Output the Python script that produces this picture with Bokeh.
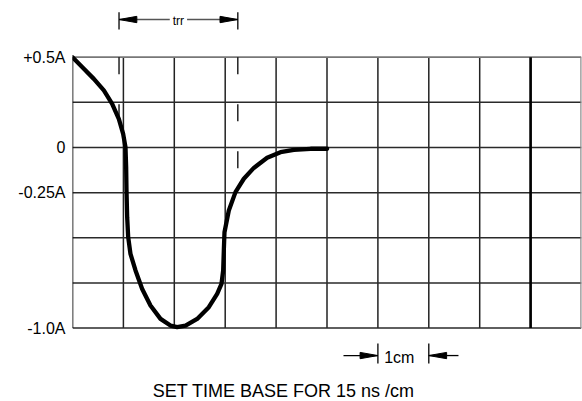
from bokeh.plotting import figure
from bokeh.models import Range1d, FixedTicker
from bokeh.core.properties import value
from bokeh.embed import file_html
from bokeh.resources import INLINE

# ---- data (x in cm divisions of the scope screen, y in amperes) ----
time_div = [0.0, 0.223, 0.419, 0.616, 0.779, 0.910, 0.995, 1.041, 1.054, 1.061,
            1.074, 1.094, 1.139, 1.238, 1.369, 1.532, 1.729, 1.925, 2.056, 2.220,
            2.449, 2.678, 2.842, 2.927, 2.960, 2.973, 2.986, 3.071, 3.202, 3.366,
            3.562, 3.824, 4.086, 4.348, 4.676, 5.003]
current_a = [0.5, 0.436, 0.380, 0.316, 0.242, 0.159, 0.076, 0.002, -0.109, -0.238,
             -0.386, -0.496, -0.589, -0.681, -0.783, -0.875, -0.949, -0.986, -0.995, -0.986,
             -0.949, -0.884, -0.810, -0.755, -0.681, -0.570, -0.469, -0.349, -0.247, -0.173,
             -0.113, -0.057, -0.026, -0.013, -0.007, -0.007]
y_ticks = [0.5, 0.0, -0.25, -1.0]
y_tick_labels = ["+0.5A", "0", "-0.25A", "-1.0A"]
grid_x = [0, 1, 2, 3, 4, 5, 6, 7, 8, 9, 10]
grid_y = [0.5, 0.25, 0.0, -0.25, -0.5, -0.75, -1.0]
trr_x = [0.914, 3.248]          # start / end of reverse recovery time
trr_marker_end = [0.05, -0.2]   # how far the dashed markers reach down
cal_x = [6, 7]                  # 1 cm calibration
trr_text = "trr"
cal_text = "1cm"
title_text = "SET TIME BASE FOR 15 ns /cm"

FONT = "Liberation Sans"
X0, X1 = grid_x[0], grid_x[-1]
Y_TOP, Y_BOT = grid_y[0], grid_y[-1]

p = figure(width=582, height=401, output_backend="svg", toolbar_location=None,
           title=None, x_range=Range1d(0, 10), y_range=Range1d(-1.4064, 0.8140),
           x_axis_location=None,
           min_border_left=72, min_border_right=1, min_border_top=0, min_border_bottom=0)
p.background_fill_color = "white"
p.border_fill_color = "white"
p.outline_line_color = None
p.xgrid.visible = False
p.ygrid.visible = False

p.yaxis.ticker = FixedTicker(ticks=y_ticks)
p.yaxis.major_label_overrides = {t: l for t, l in zip(y_ticks, y_tick_labels)}
p.yaxis.major_tick_in = 0
p.yaxis.major_tick_out = 0
p.yaxis.minor_tick_in = 0
p.yaxis.minor_tick_out = 0
p.yaxis.axis_line_color = None
p.yaxis.major_label_text_font = FONT
p.yaxis.major_label_text_font_size = "16px"
p.yaxis.major_label_text_color = "black"
p.yaxis.major_label_standoff = 7

# ---- screen graticule ----
inner_x = grid_x[1:-1]
p.segment(x0=inner_x, y0=[Y_BOT] * len(inner_x), x1=inner_x, y1=[Y_TOP] * len(inner_x),
          line_color="#222222", line_width=1.5)
inner_y = grid_y[1:]
p.segment(x0=[X0] * len(inner_y), y0=inner_y, x1=[X1] * len(inner_y), y1=inner_y,
          line_color="#2a2a2a", line_width=1.5)
p.segment(x0=[X0], y0=[Y_TOP], x1=[X1], y1=[Y_TOP], line_color="#777777", line_width=1.8)
p.segment(x0=[X1], y0=[Y_BOT], x1=[X1], y1=[Y_TOP], line_color="#888888", line_width=2.4)
p.segment(x0=[X0], y0=[Y_BOT], x1=[X0], y1=[Y_TOP], line_color="black", line_width=1.6)
p.segment(x0=[grid_x[9]], y0=[Y_BOT], x1=[grid_x[9]], y1=[Y_TOP], line_color="black", line_width=2.6)

# dashed trr markers
p.segment(x0=trr_x, y0=[Y_TOP] * 2, x1=trr_x, y1=trr_marker_end,
          line_color="black", line_width=1.3, line_dash="17 30")

# recovery current curve
p.line(time_div, current_a, line_color="black", line_width=4.3,
       line_join="round", line_cap="round")

HEAD_L = 0.35      # arrow head length (x units)
HEAD_W = 0.0175    # arrow head half width (y units)

def head(tip, direction, y):
    base = tip - direction * HEAD_L
    return [tip, base, base], [y, y + HEAD_W, y - HEAD_W]

# ---- trr dimension above the screen ----
y_trr = 0.7087
mid = (trr_x[0] + trr_x[1]) / 2
gap = 0.17
p.segment(x0=[trr_x[0], mid + gap], y0=[y_trr, y_trr], x1=[mid - gap, trr_x[1]], y1=[y_trr, y_trr],
          line_color="#555555", line_width=1.3)
p.segment(x0=trr_x, y0=[0.7496] * 2, x1=trr_x, y1=[0.6534] * 2, line_color="black", line_width=1.3)
hx1, hy1 = head(trr_x[0], -1, y_trr)
hx2, hy2 = head(trr_x[1], 1, y_trr)
p.patches(xs=[hx1, hx2], ys=[hy1, hy2], fill_color="black", line_color="black", line_width=1)
p.text(x=[mid], y=[0.7032], text=[trr_text], text_align="center", text_baseline="alphabetic",
       text_font=value(FONT), text_font_size=value("12px"), text_color="black")

# ---- 1 cm calibration below the screen ----
y_cal = -1.152
p.segment(x0=[5.324, cal_x[1]], y0=[y_cal, y_cal], x1=[cal_x[0], 7.583], y1=[y_cal, y_cal],
          line_color="black", line_width=1.3)
p.segment(x0=cal_x, y0=[-1.085] * 2, x1=cal_x, y1=[-1.196] * 2, line_color="black", line_width=1.3)
cx1, cy1 = head(cal_x[0], 1, y_cal)
cx2, cy2 = head(cal_x[1], -1, y_cal)
p.patches(xs=[cx1, cx2], ys=[cy1, cy2], fill_color="black", line_color="black", line_width=1)
p.text(x=[6.42], y=[-1.161], text=[cal_text], text_align="center", text_baseline="alphabetic",
       text_font=value(FONT), text_font_size=value("16px"), text_color="black")

p.text(x=[4.15], y=[-1.351], text=[title_text], text_align="center", text_baseline="alphabetic",
       text_font=value(FONT), text_font_size=value("18px"), text_color="black")

open("out.html", "w").write(file_html(p, INLINE))
